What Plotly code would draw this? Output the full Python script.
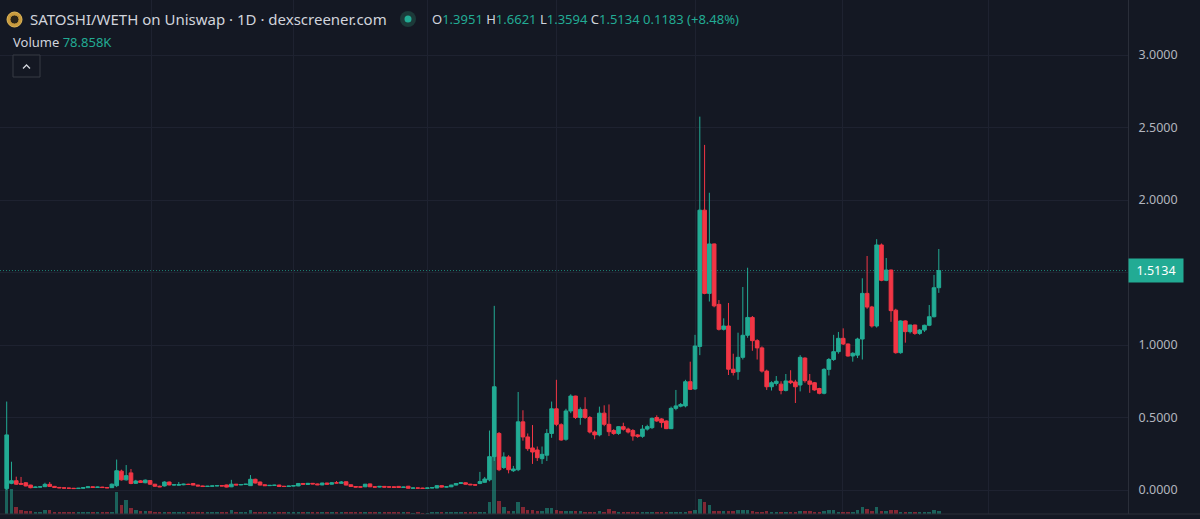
import plotly.graph_objects as go

# ---------------- data ----------------
OPEN = [0.010,0.046,0.064,0.045,0.050,0.034,0.017,0.020,0.023,0.039,
        0.025,0.018,0.015,0.013,0.012,0.010,0.012,0.016,0.022,0.018,
        0.020,0.017,0.016,0.030,0.130,0.070,0.118,0.046,0.063,0.050,
        0.065,0.040,0.026,0.028,0.055,0.035,0.033,0.036,0.040,0.045,
        0.034,0.028,0.024,0.026,0.028,0.030,0.035,0.022,0.040,0.035,
        0.038,0.030,0.074,0.055,0.036,0.030,0.032,0.034,0.026,0.024,
        0.027,0.028,0.045,0.038,0.046,0.042,0.035,0.048,0.040,0.050,
        0.046,0.057,0.036,0.024,0.022,0.022,0.042,0.022,0.020,0.025,
        0.022,0.022,0.025,0.018,0.026,0.012,0.014,0.013,0.011,0.014,
        0.014,0.030,0.020,0.022,0.034,0.045,0.050,0.040,0.036,0.045,
        0.053,0.070,0.230,0.390,0.155,0.228,0.133,0.140,0.470,0.366,
        0.290,0.276,0.216,0.240,0.390,0.560,0.450,0.350,0.545,0.648,
        0.500,0.556,0.500,0.400,0.380,0.530,0.453,0.410,0.390,0.437,
        0.420,0.410,0.380,0.370,0.420,0.430,0.500,0.490,0.476,0.423,
        0.563,0.578,0.580,0.747,0.697,0.990,1.930,1.356,1.697,1.280,
        1.108,1.131,0.833,0.816,0.915,1.067,1.190,1.030,0.980,0.820,
        0.712,0.735,0.730,0.687,0.752,0.745,0.724,0.910,0.752,0.740,
        0.700,0.667,0.832,0.900,0.954,1.046,1.007,0.924,0.930,1.041,
        1.356,1.262,1.131,1.690,1.446,1.517,1.240,0.947,1.166,1.092,
        1.138,1.080,1.103,1.136,1.195,1.3951]
HIGH = [0.610,0.195,0.092,0.090,0.055,0.036,0.024,0.026,0.050,0.055,
        0.028,0.020,0.017,0.015,0.014,0.014,0.018,0.025,0.024,0.023,
        0.022,0.019,0.045,0.210,0.140,0.172,0.145,0.070,0.068,0.072,
        0.068,0.042,0.030,0.060,0.058,0.039,0.055,0.043,0.043,0.048,
        0.036,0.030,0.028,0.030,0.033,0.032,0.037,0.070,0.042,0.040,
        0.042,0.103,0.078,0.058,0.038,0.034,0.036,0.036,0.028,0.029,
        0.032,0.048,0.047,0.049,0.048,0.044,0.050,0.050,0.053,0.062,
        0.062,0.059,0.038,0.026,0.024,0.042,0.044,0.024,0.027,0.027,
        0.024,0.024,0.027,0.022,0.028,0.016,0.016,0.015,0.016,0.018,
        0.033,0.032,0.024,0.036,0.047,0.053,0.052,0.042,0.038,0.125,
        0.090,0.410,1.270,0.400,0.260,0.240,0.166,0.676,0.550,0.390,
        0.448,0.300,0.300,0.420,0.610,0.760,0.460,0.560,0.660,0.650,
        0.570,0.640,0.510,0.410,0.575,0.584,0.590,0.420,0.440,0.464,
        0.430,0.420,0.385,0.448,0.450,0.500,0.515,0.495,0.480,0.575,
        0.690,0.600,0.760,0.885,1.070,2.575,2.380,2.050,1.700,1.310,
        1.184,1.290,0.940,1.085,1.400,1.533,1.200,1.040,0.990,0.830,
        0.750,0.786,0.750,0.800,0.826,0.760,0.930,0.915,0.800,0.745,
        0.705,0.840,0.910,1.070,1.090,1.115,1.010,0.950,1.050,1.460,
        1.614,1.270,1.730,1.700,1.600,1.520,1.250,1.170,1.170,1.140,
        1.140,1.110,1.140,1.276,1.483,1.6621]
LOW = [0.000,0.040,0.035,0.035,0.025,0.012,0.014,0.017,0.020,0.023,
       0.016,0.013,0.011,0.010,0.008,0.008,0.010,0.014,0.016,0.016,
       0.015,0.013,0.014,0.020,0.065,0.065,0.040,0.042,0.048,0.047,
       0.036,0.022,0.020,0.024,0.032,0.031,0.030,0.033,0.035,0.032,
       0.026,0.022,0.021,0.024,0.026,0.026,0.018,0.020,0.033,0.033,
       0.035,0.028,0.045,0.032,0.028,0.028,0.030,0.022,0.022,0.022,
       0.025,0.026,0.038,0.036,0.040,0.034,0.033,0.038,0.038,0.046,
       0.044,0.032,0.022,0.018,0.018,0.020,0.020,0.018,0.018,0.018,
       0.018,0.016,0.016,0.016,0.010,0.010,0.011,0.009,0.009,0.012,
       0.012,0.018,0.018,0.020,0.032,0.043,0.038,0.034,0.032,0.040,
       0.050,0.060,0.200,0.130,0.145,0.115,0.125,0.130,0.340,0.270,
       0.180,0.200,0.180,0.200,0.360,0.440,0.340,0.340,0.530,0.490,
       0.450,0.490,0.390,0.350,0.370,0.440,0.372,0.380,0.380,0.410,
       0.390,0.340,0.360,0.360,0.410,0.420,0.470,0.430,0.420,0.420,
       0.550,0.570,0.570,0.690,0.690,0.930,1.350,1.300,1.260,1.100,
       1.100,0.793,0.790,0.760,0.900,1.050,0.960,0.900,0.810,0.690,
       0.686,0.720,0.660,0.680,0.730,0.600,0.680,0.740,0.670,0.685,
       0.660,0.660,0.790,0.890,0.940,1.000,0.920,0.885,0.910,0.900,
       1.250,1.120,1.120,1.440,1.440,1.160,0.940,0.940,1.016,1.080,
       1.070,1.070,1.090,1.130,1.190,1.3594]
CLOSE = [0.380,0.064,0.040,0.040,0.028,0.016,0.020,0.022,0.039,0.025,
         0.018,0.015,0.013,0.012,0.010,0.012,0.016,0.022,0.018,0.020,
         0.017,0.015,0.040,0.133,0.070,0.099,0.045,0.062,0.052,0.068,
         0.040,0.026,0.022,0.055,0.035,0.036,0.038,0.040,0.038,0.034,
         0.028,0.024,0.026,0.028,0.030,0.028,0.020,0.040,0.035,0.038,
         0.040,0.074,0.048,0.034,0.030,0.032,0.033,0.024,0.024,0.027,
         0.030,0.045,0.040,0.046,0.042,0.036,0.048,0.040,0.050,0.048,
         0.055,0.034,0.024,0.020,0.020,0.040,0.022,0.020,0.025,0.020,
         0.020,0.018,0.018,0.020,0.012,0.014,0.013,0.011,0.014,0.016,
         0.030,0.020,0.022,0.034,0.045,0.050,0.040,0.036,0.034,0.058,
         0.076,0.230,0.712,0.140,0.228,0.140,0.145,0.470,0.366,0.285,
         0.262,0.223,0.246,0.390,0.560,0.453,0.345,0.545,0.648,0.500,
         0.556,0.500,0.400,0.380,0.530,0.453,0.402,0.390,0.437,0.419,
         0.400,0.372,0.370,0.420,0.437,0.494,0.476,0.465,0.423,0.563,
         0.580,0.590,0.747,0.694,0.993,1.930,1.356,1.697,1.270,1.108,
         1.131,0.833,0.810,0.915,1.067,1.190,1.030,0.980,0.820,0.712,
         0.740,0.750,0.687,0.752,0.740,0.712,0.915,0.754,0.729,0.690,
         0.667,0.832,0.900,0.954,1.046,1.007,0.924,0.943,1.041,1.356,
         1.262,1.131,1.690,1.446,1.517,1.237,0.947,1.166,1.092,1.138,
         1.080,1.103,1.136,1.195,1.395,1.5134]
VOLUME_K = [563,563,150,101,79,61,52,52,97,97,
            56,40,36,34,38,36,40,45,38,36,
            34,36,45,488,203,315,135,90,79,79,
            68,50,45,56,45,40,45,40,38,45,
            40,36,38,40,45,38,50,90,40,38,
            40,90,56,50,40,36,38,45,36,34,
            38,52,40,45,38,40,45,40,42,45,
            50,52,40,36,34,45,45,34,36,34,
            36,34,38,34,45,32,34,30,32,34,
            45,40,34,40,45,50,42,38,36,45,
            45,270,2318,304,169,79,79,281,169,101,
            101,68,68,146,135,90,68,79,79,79,
            68,52,52,52,79,52,113,68,45,38,
            38,38,38,45,45,38,38,38,38,45,
            52,38,45,61,101,338,270,203,79,79,
            61,79,61,90,90,90,61,52,52,61,
            38,45,45,52,45,45,79,61,79,45,
            45,79,83,83,45,38,38,45,101,169,
            120,61,150,61,61,97,83,45,45,38,
            38,38,45,52,97,78.858]
DAYS = list(range(len(CLOSE)))
PRICE_TICKS = [0.0, 0.5, 1.0, 1.5, 2.0, 2.5, 3.0]
HIDDEN_TICKS = [1.5]           # covered by the last-price label
GRID_DAYS = [30.2, 60.1, 88.1, 115.1, 144.0, 174.9, 205.5]

TITLE = "SATOSHI/WETH on Uniswap · 1D · dexscreener.com"

# ---------------- style ----------------
W, H = 1200, 519
ML, MR, MT, MB = 0, 72, 0, 5
PW, PH = W - ML - MR, H - MT - MB
BG = "#141823"
GRID = "#1e2230"
UP = "#22ab94"
DOWN = "#f23645"
UP_VOL = "rgba(34,171,148,0.5)"
DOWN_VOL = "rgba(242,54,69,0.5)"
TXT = "#d1d4dc"
AX_TXT = "#b2b5be"
FONT = "Noto Sans"

X_PX0, X_STEP = 6.7, 4.78   # pixel of first candle, pixel per day
x_lo = -X_PX0 / X_STEP
x_hi = x_lo + PW / X_STEP
Y_PX0, Y_PER_UNIT = 490.0, 145.0   # pixel of price 0, pixels per 1.0
y_hi = Y_PX0 / Y_PER_UNIT
y_lo = (Y_PX0 - PH) / Y_PER_UNIT
VOL_FRAC = 0.2


def px(x):
    return x / PW


def py(y):
    return 1 - y / PH


vol_colors = [UP_VOL if c >= o else DOWN_VOL for o, c in zip(OPEN, CLOSE)]

fig = go.Figure()
fig.add_trace(go.Bar(x=DAYS, y=VOLUME_K, marker=dict(color=vol_colors, line=dict(width=0)),
                     width=0.74, yaxis="y2", hoverinfo="skip", showlegend=False))
fig.add_trace(go.Candlestick(
    x=DAYS, open=OPEN, high=HIGH, low=LOW, close=CLOSE,
    increasing=dict(line=dict(color=UP, width=1), fillcolor=UP),
    decreasing=dict(line=dict(color=DOWN, width=1), fillcolor=DOWN),
    whiskerwidth=0, showlegend=False, hoverinfo="skip"))

last = CLOSE[-1]
chg = CLOSE[-1] - OPEN[-1]
pct = chg / OPEN[-1] * 100

shapes = [
    dict(type="line", xref="paper", yref="y", x0=0, x1=1, y0=last, y1=last,
         line=dict(color="rgba(34,171,148,0.7)", width=1, dash="1px,2px"), layer="below"),
    dict(type="line", xref="paper", yref="paper", x0=0, x1=W / PW, y0=0, y1=0,
         line=dict(color="#2a2e39", width=1)),
    # logo
    dict(type="circle", xref="paper", yref="paper", x0=px(7), x1=px(22), y0=py(27), y1=py(12),
         fillcolor="#c99b3e", line=dict(color="#e0b85a", width=1)),
    dict(type="circle", xref="paper", yref="paper", x0=px(10), x1=px(19), y0=py(24), y1=py(15),
         fillcolor="#2a2418", line=dict(color="#c99b3e", width=1)),
    # live dot
    dict(type="circle", xref="paper", yref="paper", x0=px(400), x1=px(416), y0=py(27), y1=py(11),
         fillcolor="#1c3a39", line=dict(width=0)),
    dict(type="circle", xref="paper", yref="paper", x0=px(404.5), x1=px(411.5), y0=py(22.5), y1=py(15.5),
         fillcolor=UP, line=dict(width=0)),
    # collapse button
    dict(type="rect", xref="paper", yref="paper", x0=px(13), x1=px(40), y0=py(77), y1=py(55),
         fillcolor=BG, line=dict(color="#363a45", width=1)),
    dict(type="path", xref="paper", yref="paper",
         path=f"M {px(23)} {py(68.5)} L {px(26.5)} {py(65)} L {px(30)} {py(68.5)}",
         line=dict(color=TXT, width=1.3)),
]

ann = [
    dict(xref="paper", yref="paper", x=px(28), y=py(19.5), xanchor="left", yanchor="middle",
         text=TITLE, showarrow=False, font=dict(family=FONT, size=15, color=TXT)),
    dict(xref="paper", yref="paper", x=px(430), y=py(19.5), xanchor="left", yanchor="middle",
         showarrow=False, font=dict(family=FONT, size=13, color=TXT),
         text=(f"O<span style='color:{UP}'>{OPEN[-1]:.4f}</span> "
               f"H<span style='color:{UP}'>{HIGH[-1]:.4f}</span> "
               f"L<span style='color:{UP}'>{LOW[-1]:.4f}</span> "
               f"C<span style='color:{UP}'>{CLOSE[-1]:.4f} {chg:.4f} (+{pct:.2f}%)</span>")),
    dict(xref="paper", yref="paper", x=px(11), y=py(42), xanchor="left", yanchor="middle",
         showarrow=False, font=dict(family=FONT, size=13, color=TXT),
         text=f"Volume <span style='color:{UP}'>{VOLUME_K[-1]:.3f}K</span>"),
    dict(xref="paper", yref="y", x=1, y=last, xanchor="left", yanchor="middle",
         text=f"{last:.4f}", showarrow=False, bgcolor=UP, borderpad=3, width=48,
         font=dict(family=FONT, size=12.5, color="#ffffff")),
]

fig.update_layout(
    width=W, height=H, margin=dict(l=ML, r=MR, t=MT, b=MB),
    paper_bgcolor=BG, plot_bgcolor=BG, showlegend=False, hovermode=False,
    boxgap=0.1, boxgroupgap=0.15, bargap=0,
    shapes=shapes, annotations=ann,
    xaxis=dict(range=[x_lo, x_hi], tickvals=GRID_DAYS, showticklabels=False, ticks="",
               showgrid=True, gridcolor=GRID, gridwidth=1, zeroline=False, showline=False,
               rangeslider=dict(visible=False), fixedrange=True),
    yaxis=dict(side="right", range=[y_lo, y_hi], tickvals=PRICE_TICKS,
               ticktext=["" if t in HIDDEN_TICKS else f"{t:.4f}" for t in PRICE_TICKS],
               showgrid=True, gridcolor=GRID, gridwidth=1, zeroline=False,
               showline=True, linecolor="#2a2e39", linewidth=1, ticks="", ticklabelstandoff=7,
               tickfont=dict(family=FONT, size=12.5, color=AX_TXT), fixedrange=True),
    yaxis2=dict(overlaying="y", range=[0, max(VOLUME_K) / VOL_FRAC], visible=False,
                fixedrange=True),
)

fig.write_html("out.html")
